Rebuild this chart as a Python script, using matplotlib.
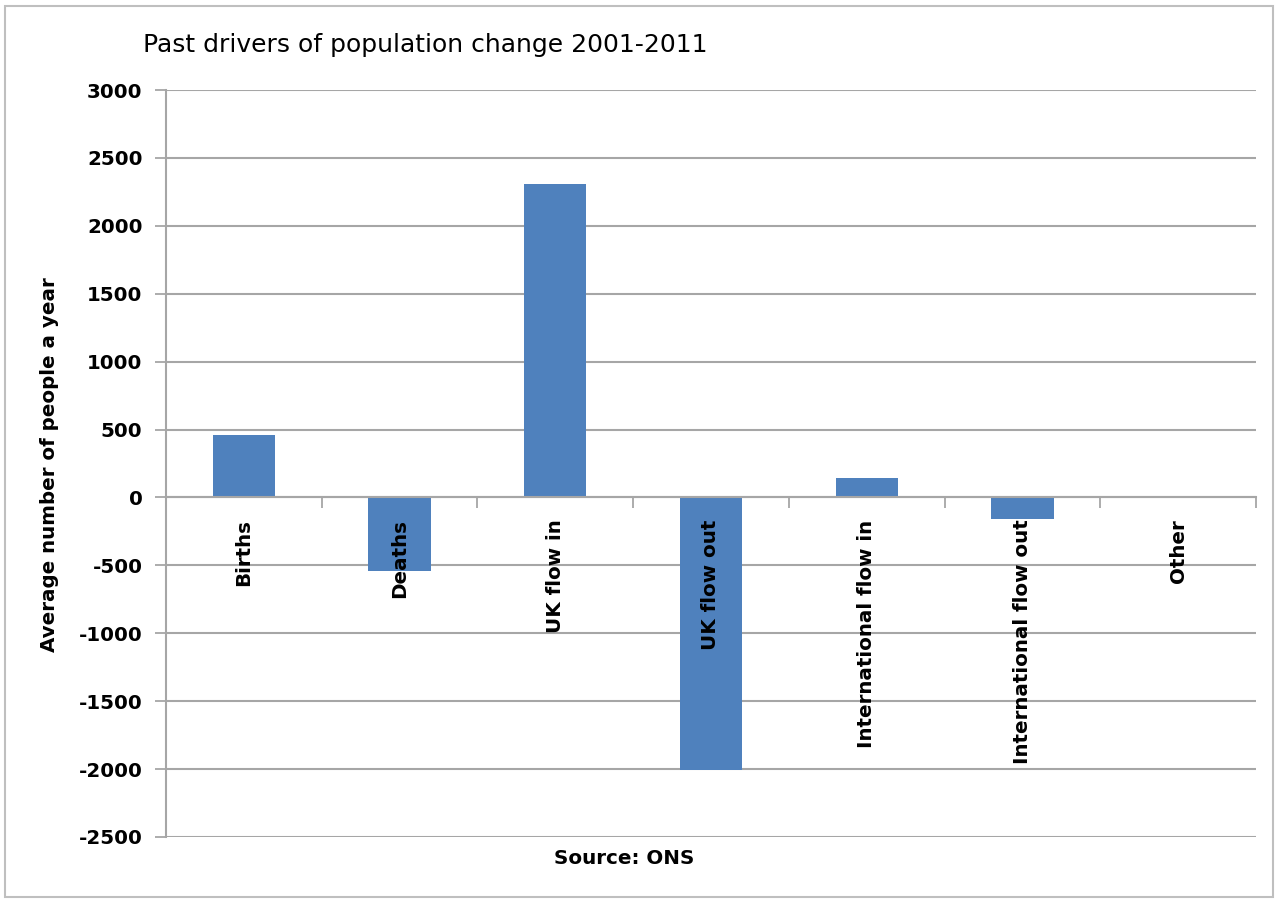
import matplotlib
matplotlib.use("Agg")
import matplotlib.pyplot as plt
from matplotlib.patches import Rectangle

categories = ["Births", "Deaths", "UK flow in", "UK flow out",
              "International flow in", "International flow out", "Other"]
values = [460, -540, 2310, -2010, 140, -160, 0]
y_ticks = [3000, 2500, 2000, 1500, 1000, 500, 0, -500, -1000, -1500, -2000, -2500]

title = "Past drivers of population change 2001-2011"
y_label = "Average number of people a year"
x_label = "Source: ONS"

BAR = "#4F81BD"
GRID = "#A6A6A6"
FS = 14.3

plt.rcParams["font.family"] = ["DejaVu Sans"]

fig = plt.figure(figsize=(12.8, 9), dpi=100)
fig.patch.set_facecolor("white")
fig.add_artist(Rectangle((5 / 1280, 3 / 900), 1268 / 1280, 891 / 900,
                         transform=fig.transFigure, fill=False,
                         edgecolor="#BFBFBF", linewidth=1.5))

ax = fig.add_axes([166 / 1280, 1 - 837 / 900, 1090 / 1280, 747 / 900])
x = list(range(len(categories)))
ax.bar(x, values, width=0.4, color=BAR, zorder=3)

ax.set_xlim(-0.5, len(categories) - 0.5)
ax.set_ylim(-2500, 3000)
ax.set_yticks(y_ticks)
ax.set_yticklabels([str(v) for v in y_ticks], fontsize=FS, fontweight="bold")
ax.yaxis.grid(True, color=GRID, linewidth=1.5, zorder=0)
ax.tick_params(axis="y", length=8, width=1.3, color=GRID, pad=9)

# category axis runs along zero with ticks between categories
ax.spines["bottom"].set_position(("data", 0))
ax.spines["bottom"].set_color(GRID)
ax.spines["bottom"].set_linewidth(1.5)
ax.spines["bottom"].set_zorder(4)
ax.set_xticks([i - 0.5 for i in range(len(categories) + 1)])
ax.set_xticklabels([])
ax.tick_params(axis="x", length=8, width=1.3, color=GRID, direction="out")
ax.spines["left"].set_color(GRID)
ax.spines["left"].set_linewidth(1.5)
ax.spines["top"].set_visible(False)
ax.spines["right"].set_visible(False)

for i, name in enumerate(categories):
    ax.annotate(name, xy=(i, 0), xytext=(0, -22), textcoords="offset pixels",
                rotation=90, ha="center", va="top", fontsize=FS,
                fontweight="bold", zorder=5)

fig.text(143 / 1280, 1 - 45 / 900, title, fontsize=18, ha="left", va="center")
fig.text(50 / 1280, 1 - 465 / 900, y_label, fontsize=FS, fontweight="bold",
         rotation=90, ha="center", va="center")
fig.text(624 / 1280, 1 - 858 / 900, x_label, fontsize=FS, fontweight="bold",
         ha="center", va="center")

fig.savefig("out.png", dpi=100, facecolor="white")
